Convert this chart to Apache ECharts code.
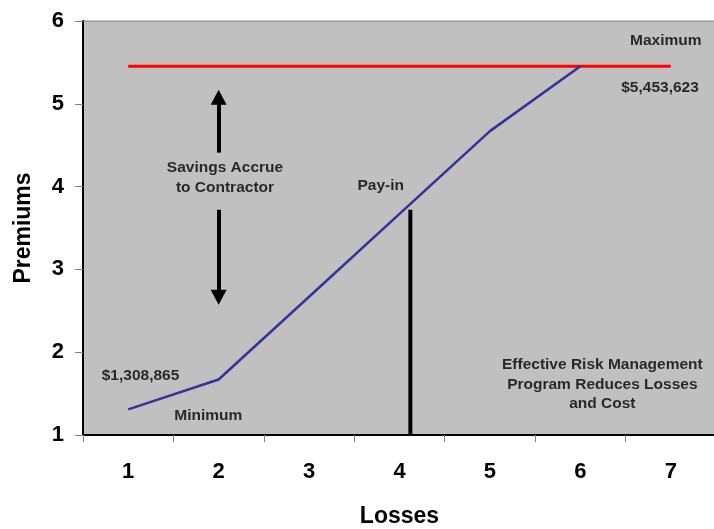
<!DOCTYPE html>
<html>
<head>
<meta charset="utf-8">
<script src="https://cdn.jsdelivr.net/npm/echarts@6/dist/echarts.min.js"></script>
<style>
html,body{margin:0;padding:0;background:#fff;}
#chart{width:714px;height:529px;}
</style>
</head>
<body>
<div id="chart"></div>
<script>
// ---- data ----
const categories = ['1', '2', '3', '4', '5', '6', '7'];
const premiumLine = [1.308865, 1.67, 2.67, 3.67, 4.67, 5.453623, null];
const maximumLine = [5.453623, 5.453623, 5.453623, 5.453623, 5.453623, 5.453623, 5.453623];
const payInX = 4.12;
const payInTop = 3.72;
const yTicks = [1, 2, 3, 4, 5, 6];

// annotation texts (positions in data units on the hidden value x-axis)
const notes = [
  { text: 'Maximum', at: [6.944, 5.758] },
  { text: '$5,453,623', at: [6.881, 5.196] },
  { text: 'Savings Accrue\nto Contractor', at: [2.07, 4.109] },
  { text: 'Pay-in', at: [3.792, 4.016] },
  { text: '$1,308,865', at: [1.136, 1.721] },
  { text: 'Minimum', at: [1.886, 1.229] },
  { text: 'Effective Risk Management\nProgram Reduces Losses\nand Cost', at: [6.243, 1.609] }
];
// savings arrows: [x, from y, to y]
const arrows = [
  [2.0, 4.41, 5.08],
  [2.0, 3.72, 2.665]
];

const FONT = '"Liberation Sans", Arial, Helvetica, sans-serif';
const chart = echarts.init(document.getElementById('chart'));

chart.setOption({
  animation: false,
  backgroundColor: '#ffffff',
  grid: {
    left: 83, top: 21, right: -2, bottom: 94,
    outerBoundsMode: 'none', containLabel: false,
    show: true, backgroundColor: '#C0C0C0', borderColor: '#808080', borderWidth: 1
  },
  xAxis: [
    {
      type: 'category',
      data: categories,
      boundaryGap: true,
      name: 'Losses',
      nameLocation: 'middle',
      nameGap: 70,
      nameTextStyle: { fontFamily: FONT, fontWeight: 'bold', fontSize: 23, color: '#000' },
      axisLine: { show: true, lineStyle: { color: '#000', width: 2 } },
      axisTick: { show: true, inside: false, length: 7, lineStyle: { color: '#808080', width: 1 } },
      axisLabel: { fontFamily: FONT, fontWeight: 'bold', fontSize: 22, color: '#000', margin: 26 },
      splitLine: { show: false }
    },
    {
      type: 'value', min: 0.5, max: 7.5, show: false
    }
  ],
  yAxis: {
    type: 'value',
    min: yTicks[0], max: yTicks[yTicks.length - 1], interval: 1,
    name: 'Premiums',
    nameLocation: 'middle',
    nameRotate: 90,
    nameGap: 48,
    nameTextStyle: { fontFamily: FONT, fontWeight: 'bold', fontSize: 23, color: '#000' },
    axisLine: { show: true, lineStyle: { color: '#000', width: 2 } },
    axisTick: { show: true, inside: false, length: 8, lineStyle: { color: '#808080', width: 1 } },
    axisLabel: { fontFamily: FONT, fontWeight: 'bold', fontSize: 22, color: '#000', margin: 19 },
    splitLine: { show: false }
  },
  series: [
    {
      type: 'line', name: 'Maximum', data: maximumLine, xAxisIndex: 0,
      symbol: 'none', lineStyle: { color: '#FF0000', width: 3 }, z: 3
    },
    {
      type: 'line', name: 'Premium', data: premiumLine, xAxisIndex: 0,
      symbol: 'none', lineStyle: { color: '#333399', width: 2.5 }, z: 4
    },
    {
      type: 'line', name: 'Pay-in', xAxisIndex: 1,
      data: [[payInX, yTicks[0]], [payInX, payInTop]],
      symbol: 'none', lineStyle: { color: '#000', width: 4 }, z: 5
    },
    {
      type: 'scatter', xAxisIndex: 1, data: [], silent: true,
      markLine: {
        silent: true,
        symbol: ['none', 'triangle'],
        symbolSize: [16, 15],
        label: { show: false },
        lineStyle: { color: '#000', width: 4, type: 'solid' },
        data: arrows.map(a => [{ coord: [a[0], a[1]] }, { coord: [a[0], a[2]] }])
      }
    },
    {
      type: 'scatter', xAxisIndex: 1, symbolSize: 0, silent: true, z: 6,
      data: notes.map(n => ({ value: n.at, label: { formatter: n.text } })),
      label: {
        show: true, position: 'inside', align: 'center', verticalAlign: 'middle',
        fontFamily: FONT, fontWeight: 'bold', fontSize: 15.5, lineHeight: 19.5, color: '#000'
      }
    }
  ]
});
</script>
</body>
</html>
